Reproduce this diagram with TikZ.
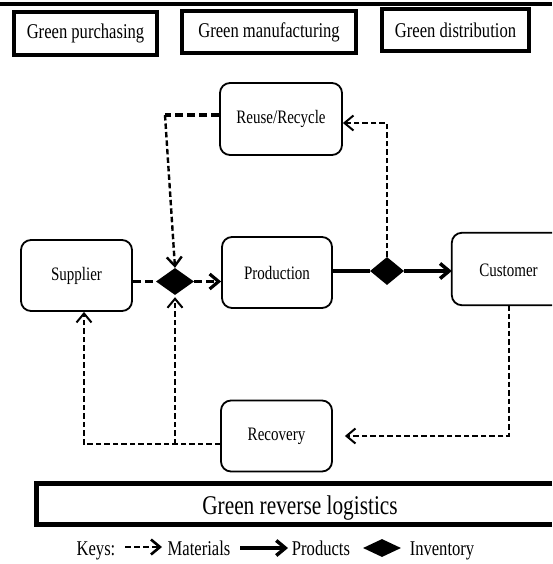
\documentclass[tikz,border=0pt]{standalone}
\usepackage{fontspec}
\setmainfont{Liberation Serif}[FakeStretch=0.79]
\usetikzlibrary{shapes.geometric,arrows.meta}
\begin{document}
\begin{tikzpicture}[x=1pt,y=-1pt,
  greenbox/.style={draw,line width=4pt,inner sep=0pt,font=\fontsize{21}{24}\selectfont},
  rbox/.style={draw,line width=1.8pt,rounded corners=10pt,inner sep=0pt,minimum width=111pt,minimum height=71pt,font=\fontsize{19}{22}\selectfont},
  inv/.style={diamond,fill=black,draw=none,inner sep=0pt,minimum width=38pt,minimum height=27pt},
  keytext/.style={font=\fontsize{21}{24}\selectfont,inner sep=0pt,anchor=base},
  matthick/.style={line width=3.2pt,dash pattern=on 8pt off 4pt},
  mat/.style={line width=2pt,dash pattern=on 5.5pt off 3pt},
  prodline/.style={line width=3.5pt},
  tip/.style={-{Straight Barb[length=9pt,width=15pt]}},
]
\useasboundingbox[fill=white] (0,0) rectangle (552,564);
% top rule
\draw[line width=4pt] (0,4.5) -- (552,4.5);
% green boxes
\node[greenbox,minimum width=143pt,minimum height=43pt] (gp) at (85.5,33.5) {Green purchasing};
\node[greenbox,minimum width=174pt,minimum height=42pt] (gm) at (269,32) {Green manufacturing};
\node[greenbox,minimum width=147pt,minimum height=42pt] (gd) at (455.5,30) {Green distribution};
% process boxes
\node[rbox,minimum width=122pt,minimum height=72pt] (rr) at (281,119) {Reuse/Recycle};
\node[rbox] (sup) at (76.5,275.5) {Supplier};
\node[rbox,minimum width=110pt] (prod) at (277,272.5) {Production};
\node[rbox] (rec) at (276.5,436) {Recovery};
\node[inv] (d1) at (175,281.5) {};
\node[inv,minimum width=34pt,minimum height=28pt] (d2) at (387,271) {};
% customer (cut at the right edge)
\node[minimum width=100pt,minimum height=72pt,inner sep=0pt] (custbox) at (502,269) {};
\draw[line width=1.8pt,rounded corners=10pt] (custbox.north east) -- (custbox.north west) -- (custbox.south west) -- (custbox.south east);
\node[font=\fontsize{19}{22}\selectfont,inner sep=0pt] (cust) at (508.5,270) {Customer};
% green reverse logistics (cut at the right edge)
\node[minimum width=515.5pt,minimum height=41pt,inner sep=0pt] (grlbox) at (294.25,504) {};
\draw[line width=5pt] (grlbox.north east) -- (grlbox.north west) -- (grlbox.south west) -- (grlbox.south east);
\node[font=\fontsize{27}{30}\selectfont,inner sep=0pt,anchor=base] (grl) at (300,514) {Green reverse logistics};
% connectors
\coordinate (c1) at (165,115);
\draw[matthick] (sup.east |- d1.west) -- (d1.west);
\draw[matthick,tip] (d1.east) -- (d1.east -| prod.west);
\draw[matthick] ([yshift=4pt]rr.west) -- (c1);
\draw[mat,line width=2.4pt,tip] (c1) -- (d1.north);
\draw[mat,tip] (d2.north) |- ([yshift=-4pt]rr.east);
\draw[prodline] (prod.east |- d2.west) -- (d2.west);
\draw[prodline,tip] (d2.east) -- (d2.east -| custbox.west);
\draw[mat,tip,shorten >=12pt] (cust |- custbox.south) |- (rec.east);
\path ([yshift=-8pt]rec.west) coordinate (recl);
\draw[mat,tip] (recl) -| ([xshift=7.5pt]sup.south);
\draw[mat,tip,shorten >=2pt] (d1.south |- recl) -- (d1.south);
% keys
\node[keytext] (keys) at (96,555) {Keys:};
\coordinate (m1) at (125,547);
\coordinate (m2) at (162,547);
\draw[line width=2.6pt,dash pattern=on 6pt off 3pt,tip] (m1) -- (m2);
\node[keytext] (mattxt) at (199,555) {Materials};
\coordinate (p1) at (240,548);
\coordinate (p2) at (288,548);
\draw[prodline,tip] (p1) -- (p2);
\node[keytext] (prodtxt) at (321,555) {Products};
\node[inv,minimum width=38pt,minimum height=18pt] (keyinv) at (382,548) {};
\node[keytext] (invtxt) at (442,555) {Inventory};
\end{tikzpicture}
\end{document}
